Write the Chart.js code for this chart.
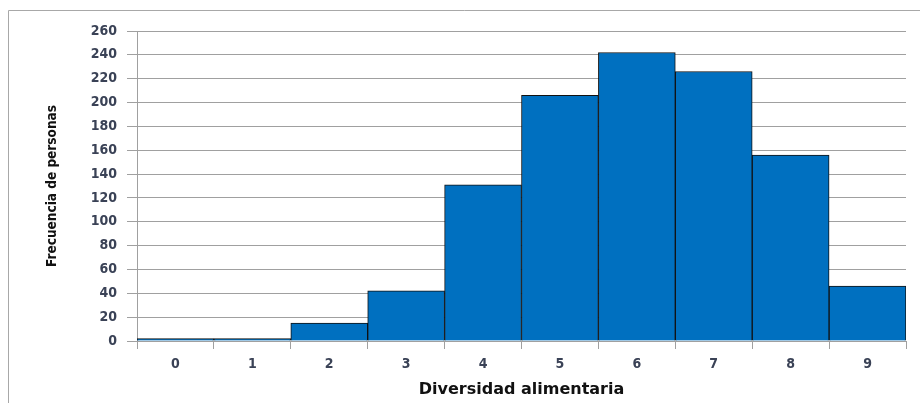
<!DOCTYPE html>
<html>
<head>
<meta charset="utf-8">
<script src="https://cdn.jsdelivr.net/npm/chart.js@4"></script>
<style>
  html, body { margin: 0; padding: 0; background: #fff; }
  #wrap { width: 920px; height: 403px; position: relative; }
</style>
</head>
<body>
<div id="wrap"><canvas id="hist" width="920" height="403"></canvas></div>
<script>
const CATEGORIES = ['0', '1', '2', '3', '4', '5', '6', '7', '8', '9'];
const FREQUENCIES = [2, 2, 15, 42, 131, 206, 242, 226, 156, 46];

const GRID = '#a0a0a0';
const TICK_COLOR = '#3a4256';

// outer frame (only top and left edges are visible in the window)
const framePlugin = {
  id: 'frame',
  beforeDraw(chart) {
    const ctx = chart.ctx;
    ctx.save();
    ctx.strokeStyle = '#a8a8a8';
    ctx.lineWidth = 1;
    ctx.beginPath();
    ctx.moveTo(8.5, 403);
    ctx.lineTo(8.5, 10.5);
    ctx.lineTo(920, 10.5);
    ctx.stroke();
    ctx.restore();
  },
};

new Chart(document.getElementById('hist'), {
  type: 'bar',
  data: {
    labels: CATEGORIES,
    datasets: [{
      data: FREQUENCIES,
      backgroundColor: '#0070c0',
      borderColor: '#111',
      borderWidth: 1,
      barPercentage: 1,
      categoryPercentage: 1,
    }],
  },
  plugins: [framePlugin],
  options: {
    responsive: false,
    animation: false,
    layout: { padding: { top: 31, right: 14, left: 0, bottom: 0 } },
    plugins: {
      legend: { display: false },
      tooltip: { enabled: false },
    },
    scales: {
      x: {
        afterFit: (s) => { s.height = 62; },
        grid: { offset: true, drawOnChartArea: false, tickLength: 8, color: GRID },
        border: { color: GRID },
        ticks: {
          color: TICK_COLOR,
          font: { family: 'DejaVu Sans Condensed', size: 14, weight: 'bold' },
          padding: 7,
        },
        title: {
          display: true,
          text: 'Diversidad alimentaria',
          color: '#111',
          font: { family: 'DejaVu Sans', size: 16, weight: 'bold' },
          padding: { top: 0, bottom: 4 },
        },
      },
      y: {
        min: 0,
        max: 260,
        afterFit: (s) => { s.width = 137; },
        grid: { color: GRID, tickLength: 10 },
        border: { color: GRID },
        ticks: {
          stepSize: 20,
          color: TICK_COLOR,
          font: { family: 'DejaVu Sans Condensed', size: 14, weight: 'bold' },
          padding: 10,
        },
        title: {
          display: true,
          text: 'Frecuencia de personas',
          color: '#111',
          font: { family: 'DejaVu Sans Condensed', size: 13.5, weight: 'bold' },
          padding: { top: 44, bottom: 0 },
        },
      },
    },
  },
});
</script>
</body>
</html>
